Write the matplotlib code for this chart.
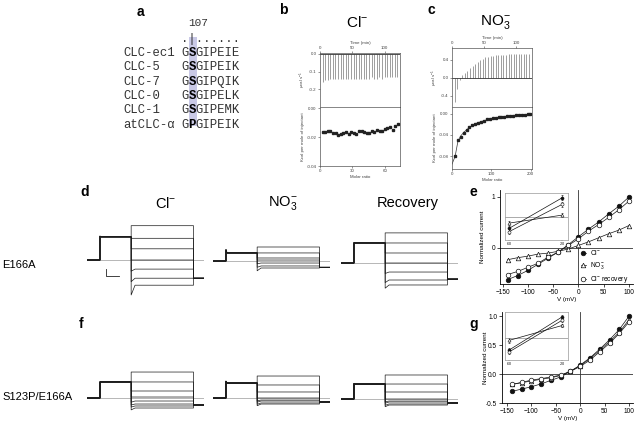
import matplotlib
matplotlib.use('Agg')
import matplotlib.pyplot as plt
from matplotlib.patches import Rectangle

plt.rcParams['font.family'] = ['Liberation Sans', 'DejaVu Sans']
plt.rcParams['mathtext.fontset'] = 'custom'
plt.rcParams['mathtext.rm'] = 'Liberation Sans'
plt.rcParams['mathtext.it'] = 'Liberation Sans:italic'

W, H = 637, 425

# ---- a: alignment
seq_names = ['CLC-ec1', 'CLC-5', 'CLC-7', 'CLC-0', 'CLC-1', 'atCLC-α']
seq_res = ['GSGIPEIE', 'GSGIPEIK', 'GSGIPQIK', 'GSGIPELK', 'GSGIPEMK', 'GPGIPEIK']
seq_pos = '107'

# ---- b / c: ITC
inj_time = [4, 8, 12, 16, 20, 24, 28, 32, 36, 40, 44, 48, 52, 56, 60,
            64, 68, 72, 76, 80, 84, 88, 92, 96, 100, 104, 108, 112, 116, 120]
b_peak = [-0.16, -0.15, -0.15, -0.14, -0.14, -0.14, -0.14, -0.14, -0.14, -0.14,
          -0.14, -0.14, -0.14, -0.14, -0.14, -0.14, -0.14, -0.14, -0.14, -0.13,
          -0.14, -0.14, -0.13, -0.14, -0.13, -0.13, -0.13, -0.13, -0.13, -0.13]
b_ratio = [2.4, 4.8, 7.2, 9.6, 12.0, 14.4, 16.8, 19.2, 21.6, 24.0,
           26.4, 28.8, 31.2, 33.6, 36.0, 38.4, 40.8, 43.2, 45.6, 48.0,
           50.4, 52.8, 55.2, 57.6, 60.0, 62.4, 64.8, 67.2, 69.6, 72.0]
b_heat = [-0.0163, -0.0165, -0.0160, -0.0155, -0.0170, -0.0168, -0.0182, -0.0175,
          -0.0170, -0.0165, -0.0178, -0.0162, -0.0168, -0.0175, -0.0160, -0.0160,
          -0.0163, -0.0170, -0.0168, -0.0160, -0.0165, -0.0150, -0.0155, -0.0160,
          -0.0140, -0.0138, -0.0130, -0.0148, -0.0125, -0.0105]
c_peak = [-0.54, -0.25, -0.06, 0.05, 0.10, 0.16, 0.22, 0.27, 0.31, 0.35,
          0.39, 0.42, 0.45, 0.47, 0.48, 0.49, 0.50, 0.50, 0.51, 0.51,
          0.51, 0.52, 0.52, 0.52, 0.52, 0.52, 0.52, 0.52, 0.52, 0.52]
c_ratio = [8, 15, 22, 30, 37, 44, 52, 59, 66, 74, 81, 89, 96, 103,
           111, 118, 125, 133, 140, 147, 155, 162, 169, 177, 184, 192, 199]
c_heat = [-0.080, -0.050, -0.043, -0.036, -0.030, -0.026, -0.022, -0.020, -0.017,
          -0.015, -0.013, -0.011, -0.010, -0.009, -0.008, -0.007, -0.006, -0.006,
          -0.005, -0.004, -0.004, -0.003, -0.003, -0.002, -0.002, -0.001, -0.001]
c_fit_x = [0, 8, 15, 22, 30, 44, 59, 74, 96, 118, 140, 162, 184, 203]
c_fit_y = [-0.095, -0.080, -0.052, -0.042, -0.035, -0.026, -0.019, -0.015,
           -0.010, -0.007, -0.005, -0.003, -0.002, -0.001]

# ---- d / f: current traces (time ms, current uA)
prot_t = [0, 50, 170, 410, 450]   # hold, prepulse, test on, test off, end
traces = {
    'd_cl': dict(pre=3.3, pre_on=3.4, test=[4.9, 3.1, 1.6, 0.0, -1.3, -2.6, -3.6],
                 onset=[4.9, 3.1, 1.6, 0.0, -1.6, -3.1, -5.0], tail=-2.6),
    'd_no3': dict(pre=1.15, pre_on=1.6, test=[2.0, 1.15, 0.43, 0.14, -0.29, -0.71, -1.0],
                  onset=[2.0, 1.15, 0.43, 0.14, -0.4, -0.9, -1.4], tail=-0.9),
    'd_rec': dict(pre=2.86, pre_on=2.9, test=[4.3, 2.86, 1.43, 0.0, -1.29, -2.43, -3.14],
                  onset=[4.3, 2.86, 1.43, 0.0, -1.5, -2.8, -3.6], tail=-2.3),
    'f_cl': dict(pre=2.29, pre_on=2.3, test=[3.71, 2.29, 1.0, 0.14, -0.43, -0.86, -1.14, -1.43],
                 onset=[3.71, 2.29, 1.0, 0.14, -0.6, -1.0, -1.3, -1.7], tail=-1.0),
    'f_no3': dict(pre=2.14, pre_on=2.4, test=[3.14, 1.86, 0.86, 0.0, -0.29, -0.43, -0.71, -0.86],
                  onset=[3.14, 1.86, 0.86, 0.0, -0.4, -0.6, -0.9, -1.1], tail=-0.57),
    'f_rec': dict(pre=2.14, pre_on=2.2, test=[3.43, 2.14, 1.0, 0.0, -0.29, -0.43, -0.71, -0.86],
                  onset=[3.43, 2.14, 1.0, 0.0, -0.4, -0.6, -0.9, -1.1], tail=-0.57),
}
scale_bar = (50, 1.0)  # ms, uA

# ---- e / g: I-V curves
volts = [-140, -120, -100, -80, -60, -40, -20, 0, 20, 40, 60, 80, 100]
e_cl = [-0.62, -0.54, -0.44, -0.32, -0.20, -0.08, 0.065, 0.22, 0.37, 0.51, 0.67, 0.82, 1.0]
e_no3 = [-0.23, -0.19, -0.16, -0.12, -0.10, -0.065, -0.02, 0.05, 0.12, 0.20, 0.28, 0.35, 0.44]
e_rec = [-0.52, -0.46, -0.38, -0.30, -0.18, -0.08, 0.05, 0.18, 0.33, 0.46, 0.60, 0.75, 0.92]
g_cl = [-0.30, -0.26, -0.22, -0.17, -0.11, -0.05, 0.045, 0.155, 0.28, 0.43, 0.59, 0.77, 1.0]
g_no3 = [-0.18, -0.15, -0.12, -0.09, -0.065, -0.025, 0.05, 0.145, 0.265, 0.41, 0.56, 0.72, 0.94]
g_rec = [-0.18, -0.145, -0.105, -0.08, -0.05, -0.02, 0.045, 0.13, 0.24, 0.385, 0.53, 0.70, 0.90]

inset_x = [0, 1]
inset_labels = ['-60', '-20']
e_in_cl = [0.25, 0.90]
e_in_no3 = [0.36, 0.53]
e_in_rec = [0.18, 0.76]
e_in_err = [0.05, 0.05]
g_in_cl = [0.21, 0.90]
g_in_no3 = [0.41, 0.72]
g_in_rec = [0.17, 0.83]
g_in_err = [0.05, 0.04]


fig = plt.figure(figsize=(6.37, 4.25), dpi=100)


def px_axes(x0, y0, x1, y1):
    return fig.add_axes([x0 / W, 1 - y1 / H, (x1 - x0) / W, (y1 - y0) / H])


ov = px_axes(0, 0, W, H)
ov.set_xlim(0, W)
ov.set_ylim(H, 0)
ov.axis('off')

# panel letters
for lab, x, y in [('a', 140, 12), ('b', 283, 10), ('c', 431, 10), ('d', 85, 192),
                  ('e', 473, 192), ('f', 81, 324), ('g', 474, 324)]:
    ov.text(x, y, lab, fontsize=10, fontweight='bold', ha='center', va='center')

# ---- a
mono = ['Liberation Mono', 'DejaVu Sans Mono']
pitch = 7.4
ov.add_patch(Rectangle((189, 37), 8, 89, color='#c9c9e6', lw=0, zorder=0))
ov.text(198, 23, seq_pos, family=mono, fontsize=8, ha='center', va='center', color='#333')
ov.text(181, 39, '.|......', family=mono, fontsize=8.8, ha='left', va='center', color='#333')
for i, (nm, s) in enumerate(zip(seq_names, seq_res)):
    y = 53 + i * 14.3
    ov.text(123, y, nm, family=mono, fontsize=8.8, ha='left', va='center', color='#333')
    ov.text(181, y, s[0], family=mono, fontsize=8.8, ha='left', va='center', color='#333')
    ov.text(181 + pitch, y, s[1], family=mono, fontsize=8.8, ha='left', va='center',
            fontweight='bold')
    ov.text(181 + 2 * pitch, y, s[2:], family=mono, fontsize=8.8, ha='left', va='center',
            color='#333')


# ---- b, c
def itc_style(ax):
    for sp in ax.spines.values():
        sp.set_linewidth(0.5)
        sp.set_color('#555')
    ax.tick_params(labelsize=3.2, length=1.5, width=0.4, pad=1, colors='#444')


def itc(x0, x1, y0, ym, y1, times, peaks, tlim, plim, pticks,
        ratio, heat, rlim, hlim, rticks, hticks, fit=None):
    top = px_axes(x0, y0, x1, ym)
    top.vlines(times, 0, peaks, color='#777', lw=0.5)
    top.axhline(0, color='#333', lw=0.6)
    top.set_xlim(*tlim)
    top.set_ylim(*plim)
    top.set_yticks(pticks)
    top.set_yticklabels(['%.1f' % v for v in pticks])
    top.xaxis.tick_top()
    top.xaxis.set_label_position('top')
    top.set_xticks([0, 50, 100])
    top.set_xlabel('Time (min)', fontsize=3.2, labelpad=1, color='#444')
    top.set_ylabel(r'$\mu$cal s$^{-1}$', fontsize=3.2, labelpad=1, color='#444')
    itc_style(top)
    bot = px_axes(x0, ym, x1, y1)
    if fit is not None:
        bot.plot(fit[0], fit[1], color='#333', lw=0.5)
    bot.plot(ratio, heat, 's', color='#222', ms=1.6)
    bot.set_xlim(*rlim)
    bot.set_ylim(*hlim)
    bot.set_xticks(rticks)
    bot.set_yticks(hticks)
    bot.set_yticklabels(['%.2f' % v for v in hticks])
    bot.set_xlabel('Molar ratio', fontsize=3.2, labelpad=1, color='#444')
    bot.set_ylabel('Kcal per mole of injectant', fontsize=3.2, labelpad=1, color='#444')
    itc_style(bot)


itc(320, 400, 53, 107, 166, inj_time, b_peak, (0, 124), (-0.30, 0.005), [0.0, -0.1, -0.2],
    b_ratio, b_heat, (0, 74), (-0.04, 0.001), [0, 30, 60], [0.00, -0.02, -0.04])
itc(452, 532, 48, 107, 169, inj_time, c_peak, (0, 124.6), (-0.65, 0.66), [0.4, 0.0, -0.4],
    c_ratio, c_heat, (0, 203), (-0.104, 0.0124), [0, 100, 200], [0.00, -0.04, -0.08],
    fit=(c_fit_x, c_fit_y))

ov.text(357, 22, r'Cl$^{-}$', fontsize=11, ha='center', va='center')
ov.text(495, 22, r'NO$_3^{-}$', fontsize=11, ha='center', va='center')

# ---- d, f traces
ov.text(166, 203, r'Cl$^{-}$', fontsize=10.5, ha='center', va='center')
ov.text(283, 203, r'NO$_3^{-}$', fontsize=10.5, ha='center', va='center')
ov.text(408, 203, 'Recovery', fontsize=10.5, ha='center', va='center')
ov.text(2, 265, 'E166A', fontsize=8, ha='left', va='center')
ov.text(2, 397, 'S123P/E166A', fontsize=8, ha='left', va='center')

px_per_ms = 1 / 3.85
px_per_ua = 7.0
half = 40


def trace_panel(key, x0, yzero):
    d = traces[key]
    width = (prot_t[-1] - prot_t[0]) * px_per_ms
    ax = px_axes(x0, yzero - half, x0 + width, yzero + half)
    ax.set_xlim(prot_t[0], prot_t[-1])
    ax.set_ylim(-half / px_per_ua, half / px_per_ua)
    ax.axis('off')
    ax.axhline(0, color='#9a9a9a', lw=0.5)
    t0, t1, t2, t3, t4 = prot_t
    for lev, on in zip(d['test'], d['onset']):
        xs = [t0, t1, t1, t1 + 4, t2, t2, t2 + 15, t3, t3, t4]
        ys = [0, 0, d['pre_on'], d['pre'], d['pre'], on, lev, lev, d['tail'], d['tail']]
        ax.plot(xs, ys, color='#1a1a1a', lw=0.5)
    return ax


ax_dcl = trace_panel('d_cl', 87, 260)
trace_panel('d_no3', 213, 261)
trace_panel('d_rec', 341, 263)
trace_panel('f_cl', 87, 398)
trace_panel('f_no3', 213, 398)
trace_panel('f_rec', 341, 399)

sx, sy = 73, -2.3
ax_dcl.plot([sx, sx, sx + scale_bar[0]], [sy + scale_bar[1], sy, sy], color='#222', lw=0.6)


# ---- e, g I-V
def iv_panel(x0, y0, x1, y1, xlim, ylim, yticks, ylabs, cl, no3, rec, legend):
    ax = px_axes(x0, y0, x1, y1)
    ax.axhline(0, color='#333', lw=0.6)
    ax.axvline(0, color='#333', lw=0.6)
    kw = dict(color='#111', lw=0.5, ms=3.3, mew=0.5)
    h1, = ax.plot(volts, cl, 'o-', mfc='#111', **kw)
    h2, = ax.plot(volts, no3, '^-', mfc='white', **kw)
    h3, = ax.plot(volts, rec, 'o-', mfc='white', **kw)
    ax.set_xlim(*xlim)
    ax.set_ylim(*ylim)
    ax.set_xticks([-150, -100, -50, 0, 50, 100])
    ax.set_yticks(yticks)
    ax.set_yticklabels(ylabs)
    ax.spines['top'].set_visible(False)
    ax.spines['right'].set_visible(False)
    for sp in ax.spines.values():
        sp.set_linewidth(0.6)
    ax.tick_params(labelsize=4.7, length=2, width=0.5, pad=1.5)
    ax.set_xlabel('V (mV)', fontsize=4.5, labelpad=1)
    ax.set_ylabel('Normalized current', fontsize=4.5)
    ax.yaxis.set_label_coords(-0.11, 0.5)
    if legend:
        leg = ax.legend([h1, h2, h3],
                        [r'Cl$^{-}$', r'NO$_3^{-}$', r'Cl$^{-}$ recovery'],
                        loc='lower left', bbox_to_anchor=(0.6, -0.025), frameon=False,
                        fontsize=4.8, handlelength=0.7, handletextpad=0.7,
                        labelspacing=0.45, borderpad=0.0, borderaxespad=0.2)
        leg.set_zorder(10)
    return ax


def iv_inset(x0, y0, x1, y1, cl, no3, rec, err, ref):
    ax = px_axes(x0, y0, x1, y1)
    kw = dict(color='#111', lw=0.5, ms=2.2, mew=0.4, capsize=0.8, elinewidth=0.4)
    ax.errorbar(inset_x, cl, yerr=err, fmt='o-', mfc='#111', **kw)
    ax.errorbar(inset_x, no3, yerr=err, fmt='^-', mfc='white', **kw)
    ax.errorbar(inset_x, rec, yerr=err, fmt='o-', mfc='white', **kw)
    ax.axhline(ref, color='#888', lw=0.5)
    ax.set_xlim(-0.081, 1.107)
    ax.set_ylim(0, 1)
    ax.set_xticks(inset_x)
    ax.set_xticklabels(inset_labels)
    ax.set_yticks([])
    for sp in ax.spines.values():
        sp.set_linewidth(0.5)
        sp.set_color('#999')
    ax.tick_params(labelsize=2.5, length=1, width=0.3, pad=0.5)


iv_panel(500, 190, 633, 284, (-155, 108), (-0.706, 1.137), [0, 1], ['0', '1'],
         e_cl, e_no3, e_rec, True)
iv_inset(505, 193, 568, 240, e_in_cl, e_in_no3, e_in_rec, e_in_err, 0.48)

iv_panel(502, 312, 633, 403, (-160, 108), (-0.5, 1.07), [-0.5, 0.0, 0.5, 1.0],
         ['-0.5', '0.0', '0.5', '1.0'], g_cl, g_no3, g_rec, False)
iv_inset(505, 312, 568, 360, g_in_cl, g_in_no3, g_in_rec, g_in_err, 0.45)

fig.savefig('out.png', dpi=100)
